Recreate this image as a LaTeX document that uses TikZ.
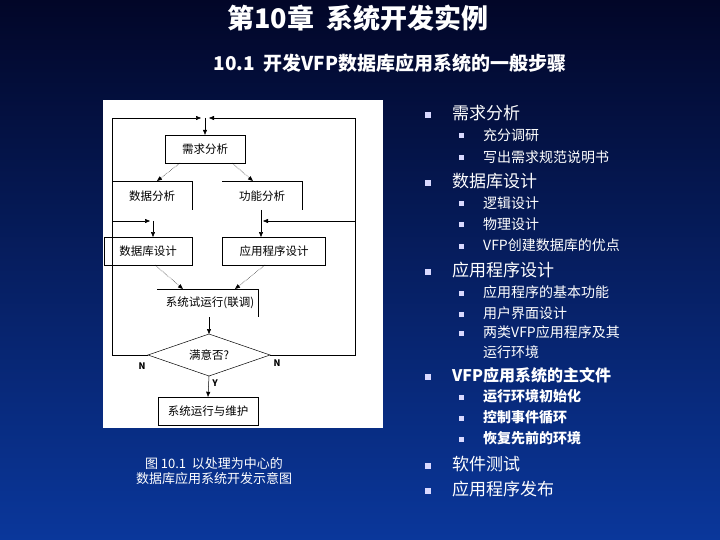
\documentclass[tikz,border=0pt]{standalone}
\usepackage{fontspec}
\setmainfont{Noto Sans CJK SC}
\usetikzlibrary{arrows.meta}
\begin{document}
\begin{tikzpicture}[x=1pt,y=-1pt,
  fl/.style={draw=black,line width=0.5pt},
  ar/.style={fl,-{Triangle[length=5pt,width=4pt]}},
  ft/.style={font=\fontsize{11.5}{12}\selectfont,text=black,inner sep=0pt},
  lone/.style={anchor=west,text=white,font=\fontsize{17}{19}\selectfont,inner sep=0pt},
  ltwo/.style={anchor=west,text=white,font=\fontsize{14}{16}\selectfont,inner sep=0pt},
  bone/.style={fill=white!85!blue,minimum size=6pt,inner sep=0pt},
  btwo/.style={fill=white!85!blue,minimum size=5pt,inner sep=0pt}]
\shade[top color={rgb,255:red,2;green,6;blue,40},middle color={rgb,255:red,8;green,30;blue,110},bottom color={rgb,255:red,10;green,55;blue,155}] (0,0) rectangle (720,540);
\useasboundingbox (0,0) rectangle (720,540);
\node[text=white,font=\fontsize{27}{29}\selectfont\bfseries] (title) at (358,18) {第10章\ \ 系统开发实例};
\node[text=white,font=\fontsize{19}{21}\selectfont\bfseries] (sub) at (390,63) {10.1\ \ 开发VFP数据库应用系统的一般步骤};
% flowchart panel
\fill[white] (103,100) rectangle (383,428);
\node[ft,draw,minimum width=80pt,minimum height=28pt] (xq) at (205,149) {需求分析};
\node[ft] (sjfx) at (152,196) {数据分析};
\draw[fl] (112,181) -- (192,181) -- (192,210);
\node[ft] (gnfx) at (262,196) {功能分析};
\draw[fl] (222,181) -- (302,181) -- (302,210);
\node[ft,draw,minimum width=88pt,minimum height=28pt] (sjk) at (148,251) {数据库设计};
\node[ft,draw,minimum width=103pt,minimum height=28pt] (yy) at (274,251) {应用程序设计};
\node[ft] (sy) at (210,303) {系统试运行(联调)};
\draw[fl] (157,289) -- (258,289) -- (258,317);
\node[ft,draw,shape=rectangle,minimum width=100pt,minimum height=28pt] (wh) at (208,411) {系统运行与维护};
\coordinate (dt) at (209,334); \coordinate (db) at (209,376);
\coordinate (dl) at (148,355); \coordinate (dr) at (270,355);
\draw[fl] (dt) -- (dr) -- (db) -- (dl) -- cycle;
\node[ft] (my) at (209,355) {满意否?};
\node[ft,font=\fontsize{9}{9}\selectfont\bfseries] (nl) at (142,366) {N};
\node[ft,font=\fontsize{9}{9}\selectfont\bfseries] (nr) at (277,363) {N};
\node[ft,font=\fontsize{9}{9}\selectfont\bfseries] (yl) at (215,383) {Y};
% connectors
\coordinate (tl) at (112,118); \coordinate (tr) at (355,118);
\coordinate (ml) at (112,221); \coordinate (mr) at (355,221);
\draw[ar] (dl) -- (112,355) -- (tl) -- (201,118);
\draw[ar] (dr) -- (355,355) -- (tr) -- (209,118);
\draw[ar] (205,118) -- (xq.north);
\draw[ar] (ml) -- (150,221);
\draw[ar] (mr) -- (263,221);
\draw[ar] (153,221) -- (153,237);
\draw[ar] (261,210) -- (261,237);
\draw[ar,densely dotted] (180,163) -- (157,181);
\draw[ar,densely dotted] (232,163) -- (253,181);
\draw[ar,densely dotted] (155,265) -- (183,289);
\draw[ar,densely dotted] (265,265) -- (235,289);
\draw[ar] (209,317) -- (dt);
\draw[ar] (db) -- (wh.north);
\node[text=white,font=\fontsize{13}{15}\selectfont,align=center] (cap) at (214,471) {图 10.1\ \ 以处理为中心的\\数据库应用系统开发示意图};
% bullets
\foreach \y/\t in {113/需求分析,181/数据库设计,270/应用程序设计,464/软件测试,489/应用程序发布}{
  \node[bone] at (428,\y+2) {}; \node[lone] at (452,\y) {\t};}
\node[bone] at (428,377) {}; \node[lone,font=\fontsize{16}{19}\selectfont\bfseries] at (452,375) {VFP应用系统的主文件};
\foreach \y/\t in {135/充分调研,157/写出需求规范说明书,203/逻辑设计,224/物理设计,245/VFP创建数据库的优点,292/应用程序的基本功能,313/用户界面设计,332/两类VFP应用程序及其}{
  \node[btwo] at (461,\y+1) {}; \node[ltwo] at (483,\y) {\t};}
\node[ltwo] at (483,352) {运行环境};
\foreach \y/\t in {396/运行环境初始化,417/控制事件循环,438/恢复先前的环境}{
  \node[btwo] at (461,\y+1) {}; \node[ltwo,font=\fontsize{14}{16}\selectfont\bfseries] at (483,\y) {\t};}
\end{tikzpicture}
\end{document}
